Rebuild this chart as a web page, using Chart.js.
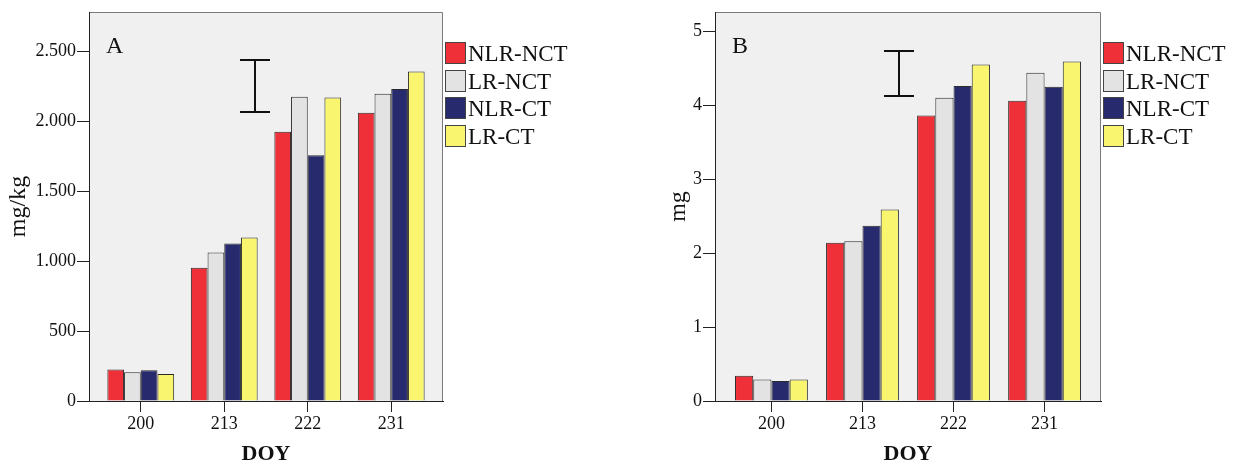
<!DOCTYPE html>
<html>
<head>
<meta charset="utf-8">
<script src="https://cdn.jsdelivr.net/npm/chart.js@4"></script>
<style>
  body { margin: 0; background: #fff; }
  canvas { position: absolute; top: 0; }
</style>
</head>
<body>
<canvas id="chartA" width="620" height="465" style="left:0px"></canvas>
<canvas id="chartB" width="613" height="465" style="left:620px"></canvas>
<script>
const doyLabels = ['200', '213', '222', '231'];
const seriesNames = ['NLR-NCT', 'LR-NCT', 'NLR-CT', 'LR-CT'];
const seriesColors = ['#ef3038', '#e3e3e3', '#282a6e', '#f9f56f'];

// Panel A (mg/kg)
const yTicksA = [0, 500, 1000, 1500, 2000, 2500];
const nlrNctA = [226, 952, 1924, 2060];
const lrNctA = [205, 1062, 2174, 2195];
const nlrCtA = [219, 1126, 1757, 2229];
const lrCtA = [193, 1169, 2169, 2355];
// LSD bar: [position on DOY axis, low, high]
const lsdA = [1.37, 2067, 2436];

// Panel B (mg)
const yTicksB = [0, 1, 2, 3, 4, 5];
const nlrNctB = [0.34, 2.14, 3.86, 4.06];
const lrNctB = [0.29, 2.16, 4.10, 4.44];
const nlrCtB = [0.27, 2.37, 4.26, 4.25];
const lrCtB = [0.29, 2.59, 4.55, 4.59];
const lsdB = [1.40, 4.12, 4.73];

const SERIF = "'Liberation Serif', 'Times New Roman', serif";
const INK = '#111';

// background, frame, LSD bar, panel letter and legend
const panelDeco = {
  id: 'panelDeco',
  beforeDraw(chart) {
    const { ctx, chartArea: a } = chart;
    ctx.save();
    ctx.fillStyle = '#f0f0f0';
    ctx.fillRect(a.left, a.top, a.right - a.left, a.bottom - a.top);
    ctx.restore();
  },
  afterDatasetsDraw(chart, args, opts) {
    const { ctx, chartArea: a, scales: { x, y } } = chart;
    ctx.save();
    ctx.lineWidth = 1;
    ctx.strokeStyle = '#7a7a7a';
    ctx.beginPath();
    ctx.moveTo(a.left, a.top + 0.5);
    ctx.lineTo(a.right - 0.5, a.top + 0.5);
    ctx.lineTo(a.right - 0.5, a.bottom);
    ctx.stroke();
    ctx.strokeStyle = '#222';
    ctx.beginPath();
    ctx.moveTo(a.left + 0.5, a.top);
    ctx.lineTo(a.left + 0.5, a.bottom + 0.5);
    ctx.lineTo(a.right, a.bottom + 0.5);
    ctx.stroke();

    // LSD error bar
    const [ex, lo, hi] = opts.lsd;
    const px = Math.round(x.getPixelForValue(ex));
    const yHi = Math.round(y.getPixelForValue(hi));
    const yLo = Math.round(y.getPixelForValue(lo));
    ctx.lineWidth = 2;
    ctx.strokeStyle = INK;
    ctx.beginPath();
    ctx.moveTo(px - 15, yHi); ctx.lineTo(px + 15, yHi);
    ctx.moveTo(px, yHi); ctx.lineTo(px, yLo);
    ctx.moveTo(px - 15, yLo); ctx.lineTo(px + 15, yLo);
    ctx.stroke();

    // panel letter
    ctx.fillStyle = INK;
    ctx.font = '24px ' + SERIF;
    ctx.textAlign = 'left';
    ctx.textBaseline = 'alphabetic';
    ctx.fillText(opts.letter, a.left + 17, a.top + 41);

    // legend
    ctx.font = '23px ' + SERIF;
    ctx.lineWidth = 1;
    chart.data.datasets.forEach((ds, i) => {
      const bx = Math.round(a.right + 2);
      const by = Math.round(a.top + 30 + i * 27.6);
      ctx.fillStyle = ds.backgroundColor;
      ctx.fillRect(bx, by, 21, 22);
      ctx.strokeStyle = '#444';
      ctx.strokeRect(bx + 0.5, by + 0.5, 20, 21);
      ctx.fillStyle = INK;
      ctx.fillText(ds.label, bx + 23, by + 19);
    });
    ctx.restore();
  }
};

function thousands(v) {
  return String(v).replace(/\B(?=(\d{3})+(?!\d))/g, '.');
}

function makeChart(id, series, p) {
  const datasets = series.map((vals, i) => ({
    label: seriesNames[i],
    data: vals.map((v, k) => ({ x: k, y: v })),
    backgroundColor: seriesColors[i],
    borderColor: '#2a2a2a',
    borderWidth: 1,
    borderSkipped: 'start',
    categoryPercentage: 0.8,
    barPercentage: 1.0
  }));

  return new Chart(document.getElementById(id), {
    type: 'bar',
    data: { datasets },
    options: {
      responsive: false,
      animation: false,
      devicePixelRatio: 1,
      layout: { padding: { left: p.padLeft, right: p.padRight, top: 12, bottom: 0 } },
      plugins: {
        legend: { display: false },
        tooltip: { enabled: false },
        panelDeco: { letter: p.letter, lsd: p.lsd }
      },
      scales: {
        x: {
          type: 'linear',
          min: -0.62,
          max: 3.62,
          offset: false,
          grid: { drawOnChartArea: false, drawTicks: true, tickLength: 11, tickColor: '#222', offset: false },
          border: { display: true, color: '#222', width: 1 },
          ticks: {
            maxRotation: 0,
            padding: 1,
            color: INK,
            font: { family: SERIF, size: 18 },
            callback: (v) => (doyLabels[v] !== undefined ? doyLabels[v] : '')
          },
          afterBuildTicks: (s) => { s.ticks = doyLabels.map((d, k) => ({ value: k })); },
          title: {
            display: true,
            text: 'DOY',
            color: INK,
            font: { family: SERIF, size: 22, weight: 'bold', lineHeight: 1 },
            padding: { top: 0, bottom: 0 }
          },
          afterFit: (s) => { s.height = 64; }
        },
        y: {
          min: 0,
          max: p.yMax,
          grid: { drawOnChartArea: false, drawTicks: true, tickLength: 12, tickColor: '#222' },
          border: { display: true, color: '#222', width: 1 },
          ticks: {
            padding: 1,
            color: INK,
            font: { family: SERIF, size: 18 },
            callback: (v) => thousands(v)
          },
          afterBuildTicks: (s) => { s.ticks = p.yTicks.map((v) => ({ value: v })); },
          title: {
            display: true,
            text: p.yTitle,
            color: INK,
            font: { family: SERIF, size: 24 },
            padding: { top: 4, bottom: 0 }
          },
          afterFit: (s) => { s.width = p.axisWidth; }
        }
      }
    },
    plugins: [panelDeco]
  });
}

makeChart('chartA', [nlrNctA, lrNctA, nlrCtA, lrCtA], {
  yMax: 2780, yTicks: yTicksA, yTitle: 'mg/kg', letter: 'A', lsd: lsdA,
  padLeft: 0, axisWidth: 89, padRight: 177
});

makeChart('chartB', [nlrNctB, lrNctB, nlrCtB, lrCtB], {
  yMax: 5.26, yTicks: yTicksB, yTitle: 'mg', letter: 'B', lsd: lsdB,
  padLeft: 40, axisWidth: 55, padRight: 132
});
</script>
</body>
</html>
